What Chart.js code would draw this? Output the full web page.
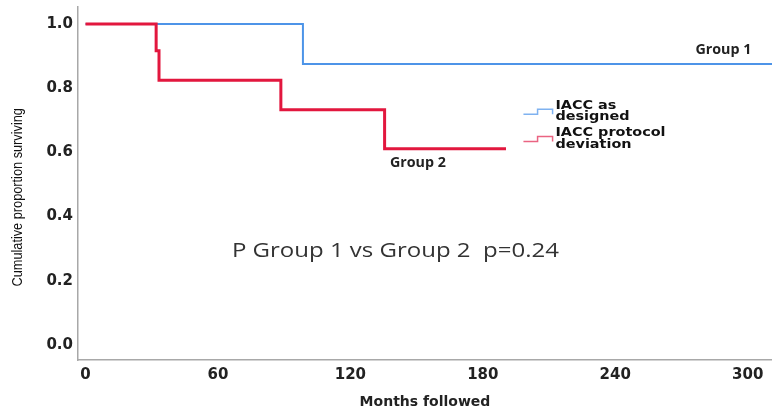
<!DOCTYPE html>
<html>
<head>
<meta charset="utf-8">
<script src="https://cdn.jsdelivr.net/npm/chart.js@4"></script>
<style>
  html, body { margin: 0; padding: 0; background: #fff; }
  #wrap { width: 772px; height: 411px; }
</style>
</head>
<body>
<div id="wrap"><canvas id="km"></canvas></div>
<script>
// survival data (months, cumulative proportion)
const group1Months = [0, 98.5, 311];
const group1Surv = [1.0, 0.875, 0.875];
const group2Months = [0, 32, 33.3, 88.5, 135.5, 190.5];
const group2Surv = [1.0, 0.917, 0.825, 0.733, 0.611, 0.611];

const xTicks = [0, 60, 120, 180, 240, 300];
const yTicks = [0.0, 0.2, 0.4, 0.6, 0.8, 1.0];

const legendLabels = [["IACC as", "designed"], ["IACC protocol", "deviation"]];
const groupLabels = ["Group 1", "Group 2"];
const pValueText = "P Group 1 vs Group 2  p=0.24";
const yTitle = "Cumulative proportion surviving";

const BLUE = "#4d94e8";
const RED = "#e2173e";

function toPoints(xs, ys) {
  return xs.map((x, i) => ({ x: x, y: ys[i] }));
}

function drawText(ctx, text, x, y, font, color, sx, align, rot) {
  ctx.save();
  ctx.font = font;
  ctx.fillStyle = color;
  ctx.textBaseline = "middle";
  ctx.translate(x, y);
  if (rot) ctx.rotate(rot);
  ctx.scale(sx, 1);
  const w = ctx.measureText(text).width;
  let dx = 0;
  if (align === "center") dx = -w / 2;
  ctx.fillText(text, dx, 0);
  ctx.restore();
}

// labels, legend and p-value drawn on the plot
const annotations = {
  id: "annotations",
  afterDatasetsDraw(chart) {
    const ctx = chart.ctx;
    const xs = chart.scales.x, ys = chart.scales.y;
    const px = v => xs.getPixelForValue(v);
    const py = v => ys.getPixelForValue(v);

    const groupFont = "bold 14px 'Open Sans'";
    drawText(ctx, groupLabels[0], px(289), py(0.919), groupFont, "#222", 1.02, "center");
    drawText(ctx, groupLabels[1], px(150.6), py(0.567), groupFont, "#222", 1.02, "center");

    // legend step icons
    const iconColors = ["#7fb2f0", "#ea6482"];
    const iconY = [0.728, 0.643];
    iconColors.forEach((c, i) => {
      const yLow = py(iconY[i]) + 3, yHigh = py(iconY[i]) - 2;
      const x0 = px(198.4), x1 = px(204.8), x2 = px(211.6);
      ctx.save();
      ctx.strokeStyle = c;
      ctx.lineWidth = 1.5;
      ctx.beginPath();
      ctx.moveTo(x0, yLow);
      ctx.lineTo(x1, yLow);
      ctx.lineTo(x1, yHigh);
      ctx.lineTo(x2, yHigh);
      ctx.lineTo(x2, yLow);
      ctx.stroke();
      ctx.restore();
    });
    const legFont = "bold 12px 'DejaVu Sans'";
    const legY = [[0.745, 0.710], [0.660, 0.623]];
    legendLabels.forEach((lines, i) => {
      lines.forEach((t, j) => {
        drawText(ctx, t, px(212.9), py(legY[i][j]), legFont, "#111", 1.2, "left");
      });
    });

    drawText(ctx, pValueText, px(140.4), py(0.293), "20px 'Open Sans'", "#333", 1.2, "center");

    // condensed rotated y-axis title
    drawText(ctx, yTitle, 18, py(0.46), "14px 'Liberation Sans'", "#111", 0.91, "center", -Math.PI / 2);
  }
};

new Chart(document.getElementById("km"), {
  type: "line",
  data: {
    datasets: [
      {
        label: "IACC as designed",
        data: toPoints(group1Months, group1Surv),
        borderColor: BLUE,
        borderWidth: 2,
        stepped: true,
        pointRadius: 0,
        fill: false,
        order: 2
      },
      {
        label: "IACC protocol deviation",
        data: toPoints(group2Months, group2Surv),
        borderColor: RED,
        borderWidth: 3,
        stepped: true,
        pointRadius: 0,
        fill: false,
        order: 1
      }
    ]
  },
  options: {
    responsive: true,
    maintainAspectRatio: false,
    animation: false,
    layout: { padding: { top: 7, right: 0, left: 0, bottom: 0 } },
    plugins: {
      legend: { display: false },
      tooltip: { enabled: false }
    },
    scales: {
      x: {
        type: "linear",
        min: -3.4,
        max: 311,
        afterBuildTicks: s => { s.ticks = xTicks.map(v => ({ value: v })); },
        afterFit: s => {
          s.height = 51;
          s.paddingLeft = 0; s.paddingRight = 0;
        },
        grid: { display: false, drawTicks: false },
        border: { color: "#a8a8a8", width: 1.5 },
        ticks: {
          padding: 6,
          color: "#222",
          font: { family: "DejaVu Sans", size: 15, weight: "bold" }
        },
        title: {
          display: true,
          text: "Months followed",
          color: "#222",
          padding: { top: 6, bottom: 0 },
          font: { family: "DejaVu Sans", size: 14, weight: "bold" }
        }
      },
      y: {
        min: -0.047,
        max: 1.053,
        afterBuildTicks: s => { s.ticks = yTicks.map(v => ({ value: v })); },
        afterFit: s => {
          s.width = 78;
          s.paddingTop = 0; s.paddingBottom = 0;
        },
        grid: { display: false, drawTicks: false },
        border: { color: "#a8a8a8", width: 1.5 },
        ticks: {
          padding: 5,
          color: "#222",
          callback: v => v.toFixed(1),
          font: { family: "DejaVu Sans", size: 15, weight: "bold" }
        },
        title: { display: false }
      }
    }
  },
  plugins: [annotations]
});
</script>
</body>
</html>
